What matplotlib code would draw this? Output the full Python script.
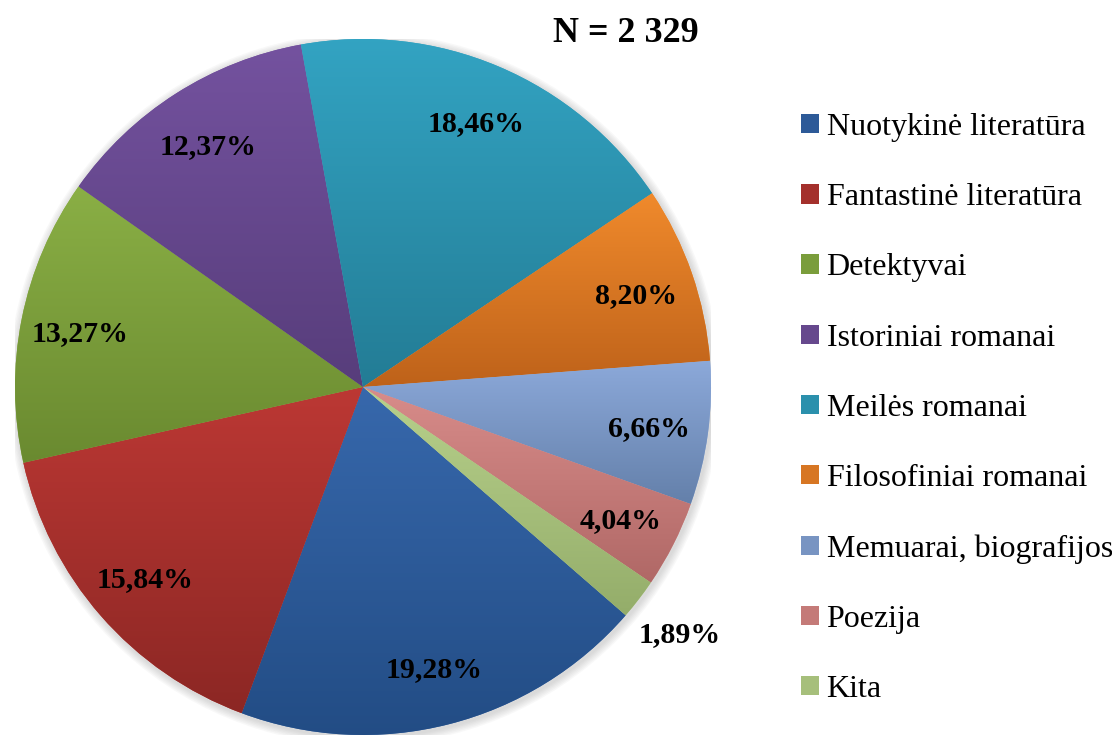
import numpy as np
import matplotlib
matplotlib.use("Agg")
import matplotlib.pyplot as plt
from matplotlib.colors import LinearSegmentedColormap, to_rgb
from matplotlib.patches import Patch, Circle

categories = ["Nuotykinė literatūra", "Fantastinė literatūra", "Detektyvai",
              "Istoriniai romanai", "Meilės romanai", "Filosofiniai romanai",
              "Memuarai, biografijos", "Poezija", "Kita"]
shares = [19.28, 15.84, 13.27, 12.37, 18.46, 8.20, 6.66, 4.04, 1.89]
top_colors = ["#3768AC", "#BC3834", "#8AAF45", "#74529F", "#33A4C3",
              "#F08A2C", "#8CA9DA", "#D88C8A", "#B8D18C"]
bottom_colors = ["#224C84", "#8C2724", "#6A8A30", "#573D7B", "#237C95",
                 "#BE621A", "#6480AA", "#B06866", "#94AD6A"]
title = "N = 2 329"

plt.rcParams['font.family'] = ['Liberation Serif', 'DejaVu Serif']

W, H = 1112, 736
fig = plt.figure(figsize=(W / 100, H / 100), dpi=100)
cx, cy, r = 363, 387, 348
ax = fig.add_axes([(cx - r) / W, (H - cy - r) / H, 2 * r / W, 2 * r / H])

# soft shadow
for k in range(6):
    ax.add_patch(Circle((0.004, -0.006), 1.0 + 0.004 * (k + 1), color="#808080",
                        alpha=0.05, lw=0, zorder=0))

wedges, _ = ax.pie(shares, startangle=-41, counterclock=False, radius=1,
                   center=(0, 0), wedgeprops=dict(linewidth=0), frame=False)

for w, ctop, cbot in zip(wedges, top_colors, bottom_colors):
    w.set_zorder(1)
    w.set_facecolor(ctop)
    verts = w.get_path().vertices
    xmin, ymin = verts.min(axis=0)
    xmax, ymax = verts.max(axis=0)
    cmap = LinearSegmentedColormap.from_list("g", [ctop, cbot])
    grad = np.linspace(0, 1, 256).reshape(-1, 1)
    im = ax.imshow(grad, cmap=cmap, extent=(xmin, xmax, ymin, ymax),
                   origin="upper", aspect="auto", zorder=2, interpolation="bilinear")
    im.set_clip_path(w)

# labels
for i, (w, v) in enumerate(zip(wedges, shares)):
    ang = np.deg2rad((w.theta1 + w.theta2) / 2)
    d = 1.15 if i == len(shares) - 1 else 0.83
    txt = f"{v:.2f}".replace(".", ",") + "%"
    ax.text(d * np.cos(ang), d * np.sin(ang), txt, ha="center", va="center_baseline",
            fontsize=21.5, fontweight="bold", zorder=5, clip_on=False)

ax.set_xlim(-1, 1)
ax.set_ylim(-1, 1)
ax.set_aspect("equal")
ax.axis("off")

fig.text(626 / W, 1 - 29 / H, title, ha="center", va="center_baseline",
         fontsize=26, fontweight="bold")

mid_colors = [tuple((np.array(to_rgb(a)) + np.array(to_rgb(b))) / 2)
              for a, b in zip(top_colors, bottom_colors)]
handles = [Patch(facecolor=c, edgecolor="none") for c in mid_colors]
fig.legend(handles, categories, loc="upper left",
           bbox_to_anchor=(801 / W, 1 - 113 / H), frameon=False,
           fontsize=23, handlelength=0.55, handleheight=0.55, handletextpad=0.25,
           labelspacing=1.29, borderpad=0, borderaxespad=0)

fig.savefig("out.png", dpi=100)
